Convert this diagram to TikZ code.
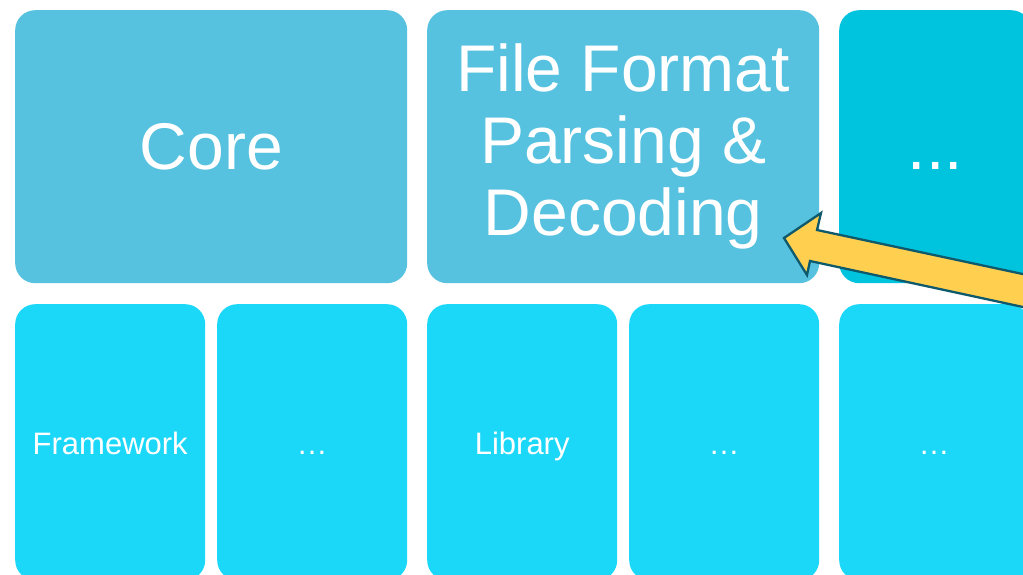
\documentclass[tikz,border=0pt]{standalone}
\usepackage{fontspec}
\setmainfont{Liberation Sans}
\definecolor{topbox}{HTML}{56C2DF}
\definecolor{topdark}{HTML}{00C3DE}
\definecolor{botbox}{HTML}{1CD8F8}
\definecolor{arrowfill}{HTML}{FFD04F}
\definecolor{arrowline}{HTML}{0E5A6C}
\begin{document}
\begin{tikzpicture}[x=1pt,y=-1pt,
  box/.style={rounded corners=20pt, anchor=north west, inner sep=0pt, text=white, align=center},
  bigbox/.style={box, fill=topbox, minimum width=392pt, minimum height=273pt,
    font=\fontsize{66}{72}\selectfont},
  sidebox/.style={box, fill=topdark, minimum width=192pt, minimum height=273pt,
    font=\fontsize{66}{72}\selectfont, text height=45pt, text depth=0pt},
  smallbox/.style={box, fill=botbox, minimum width=190pt, minimum height=276pt,
    font=\fontsize{31}{36}\selectfont, text height=26pt, text depth=2pt},
  callout/.style={draw=arrowline, fill=arrowfill, line width=2.3pt, line join=miter}]
\path[use as bounding box, clip] (0,0) rectangle (1023,575);
\fill[white] (0,0) rectangle (1023,575);
% top row
\node[bigbox] (core) at (15,10) {Core};
\node[bigbox] (ffp) at (427,10) {File Format\\Parsing \&\\Decoding};
\node[sidebox] (more) at (839,10) {...};
% bottom row
\node[smallbox] (fw) at (15,304) {Framework};
\node[smallbox] (b2) at (217,304) {…};
\node[smallbox] (lib) at (427,304) {Library};
\node[smallbox] (b4) at (629,304) {…};
\node[smallbox] (b5) at (839,304) {…};
% callout arrow
\coordinate (tip) at (784,238);
\draw[callout] (tip) -- (821,213) -- (817,230) -- (1060,282) -- (1060,315)
  -- (810,261) -- (807,275) -- cycle;
\end{tikzpicture}
\end{document}
